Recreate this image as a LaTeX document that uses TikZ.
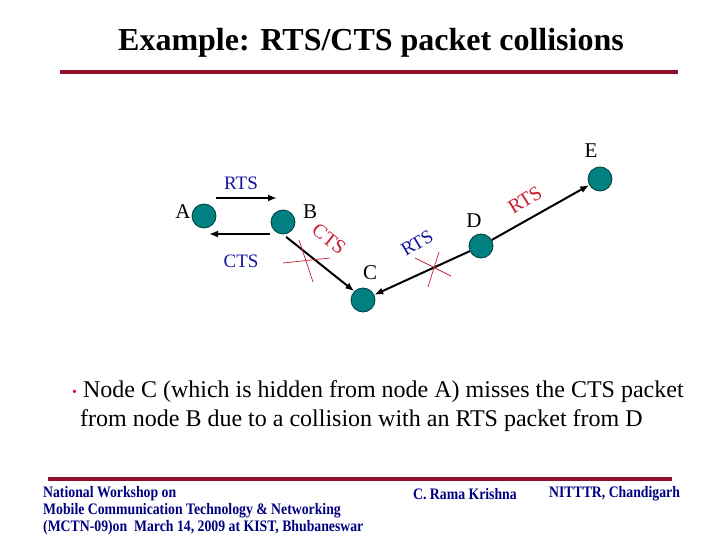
\documentclass[tikz,border=0pt]{standalone}
\usepackage{fontspec}
\setmainfont{Liberation Serif}
\usetikzlibrary{arrows.meta, positioning, calc}
\definecolor{slidered}{RGB}{140,16,40}
\definecolor{nodeteal}{RGB}{0,128,128}
\definecolor{nodeedge}{RGB}{0,60,60}
\definecolor{pktblue}{RGB}{20,20,160}
\definecolor{pktred}{RGB}{200,30,50}
\definecolor{footblue}{RGB}{0,0,128}
\tikzset{
  station/.style={
    circle, draw=nodeedge, fill=nodeteal, line width=0.8pt,
    minimum size=24pt, inner sep=0pt,
  },
  stname/.style={
    font=\fontsize{21}{21}\selectfont, inner sep=0pt,
  },
  pkt/.style={
    font=\fontsize{19}{19}\selectfont, text=pktblue, inner sep=0pt,
  },
  pktbad/.style={
    font=\fontsize{20}{20}\selectfont, text=pktred, inner sep=0pt,
  },
  arrow/.style={
    -{Latex[length=9pt, width=7pt]}, line width=2pt, draw=black,
  },
  cross/.style={
    line width=0.7pt, draw=pktred,
  },
  rule/.style={
    line width=4pt, draw=slidered,
  },
  foot/.style={
    font=\bfseries\fontsize{16}{18}\selectfont, text=footblue,
    anchor=west, inner sep=0pt, xscale=0.86,
  }
}

\begin{document}
\begin{tikzpicture}[x=1pt, y=-1pt]
  \useasboundingbox (0,0) rectangle (720,540);

  % title and rule
  \node[font=\bfseries\fontsize{32}{36}\selectfont] (title) at (371,43)
    {Example: RTS/CTS packet collisions};
  \draw[rule] (60,72) -- (678,72);

  % stations
  \node[station] (a) at (204,216) {};
  \node[station] (b) at (283,222) {};
  \node[station] (c) at (363,300) {};
  \node[station] (d) at (481,246) {};
  \node[station] (e) at (600,179) {};

  \node[stname] (la) at (183,212) {A};
  \node[stname] (lb) at (310,212) {B};
  \node[stname] (lc) at (370,273) {C};
  \node[stname] (ld) at (474,221) {D};
  \node[stname] (le) at (591,151) {E};

  % A <-> B handshake
  \draw[arrow] ([shift={(12,-18)}]a.center) -- ([shift={(-6,-24)}]b.center);
  \draw[arrow] ([shift={(-13,12)}]b.center) -- ([shift={(5,18)}]a.center);
  \node[pkt] (rtsab) at (241,183) {RTS};
  \node[pkt] (ctsab) at (241,261) {CTS};

  % CTS from B towards C
  \draw[arrow, shorten <=4pt] (b.south) -- (c.north west);
  \node[pktbad, rotate=-38] (ctsbc) at (329,239) {CTS};
  \draw[cross] (283,263) -- (330,258);
  \draw[cross] (299,240) -- (313,282);

  % RTS from D to C and E
  \draw[arrow] (d) -- (c);
  \draw[arrow] (d) -- (e);
  \node[pkt, rotate=31] (rtsdc) at (417,243) {RTS};
  \node[pktbad, rotate=32] (rtsde) at (525,200) {RTS};
  \draw[cross] (415,258) -- (451,276);
  \draw[cross] (439,252) -- (428,287);

  % bullet text
  \node[anchor=west, inner sep=0pt, font=\fontsize{24}{28}\selectfont] (txt1) at (72,392)
    {{\color{pktred}\fontsize{14}{14}\selectfont\raisebox{1pt}{•}} Node C (which is hidden from node A) misses the CTS packet};
  \node[anchor=west, inner sep=0pt, font=\fontsize{24}{28}\selectfont] (txt2) at (80,421)
    {from node B due to a collision with an RTS packet from D};

  % footer
  \draw[rule] (48,479) -- (672,479);
  \node[foot] (f1) at (43,494) {National Workshop on};
  \node[foot] (f2) at (43,511) {Mobile Communication Technology \& Networking};
  \node[foot] (f3) at (43,528) {(MCTN-09)on\ \ March 14, 2009 at KIST, Bhubaneswar};
  \node[foot] (f4) at (413,494) {C. Rama Krishna};
  \node[foot] (f5) at (549,494) {NITTTR, Chandigarh};

\end{tikzpicture}
\end{document}
